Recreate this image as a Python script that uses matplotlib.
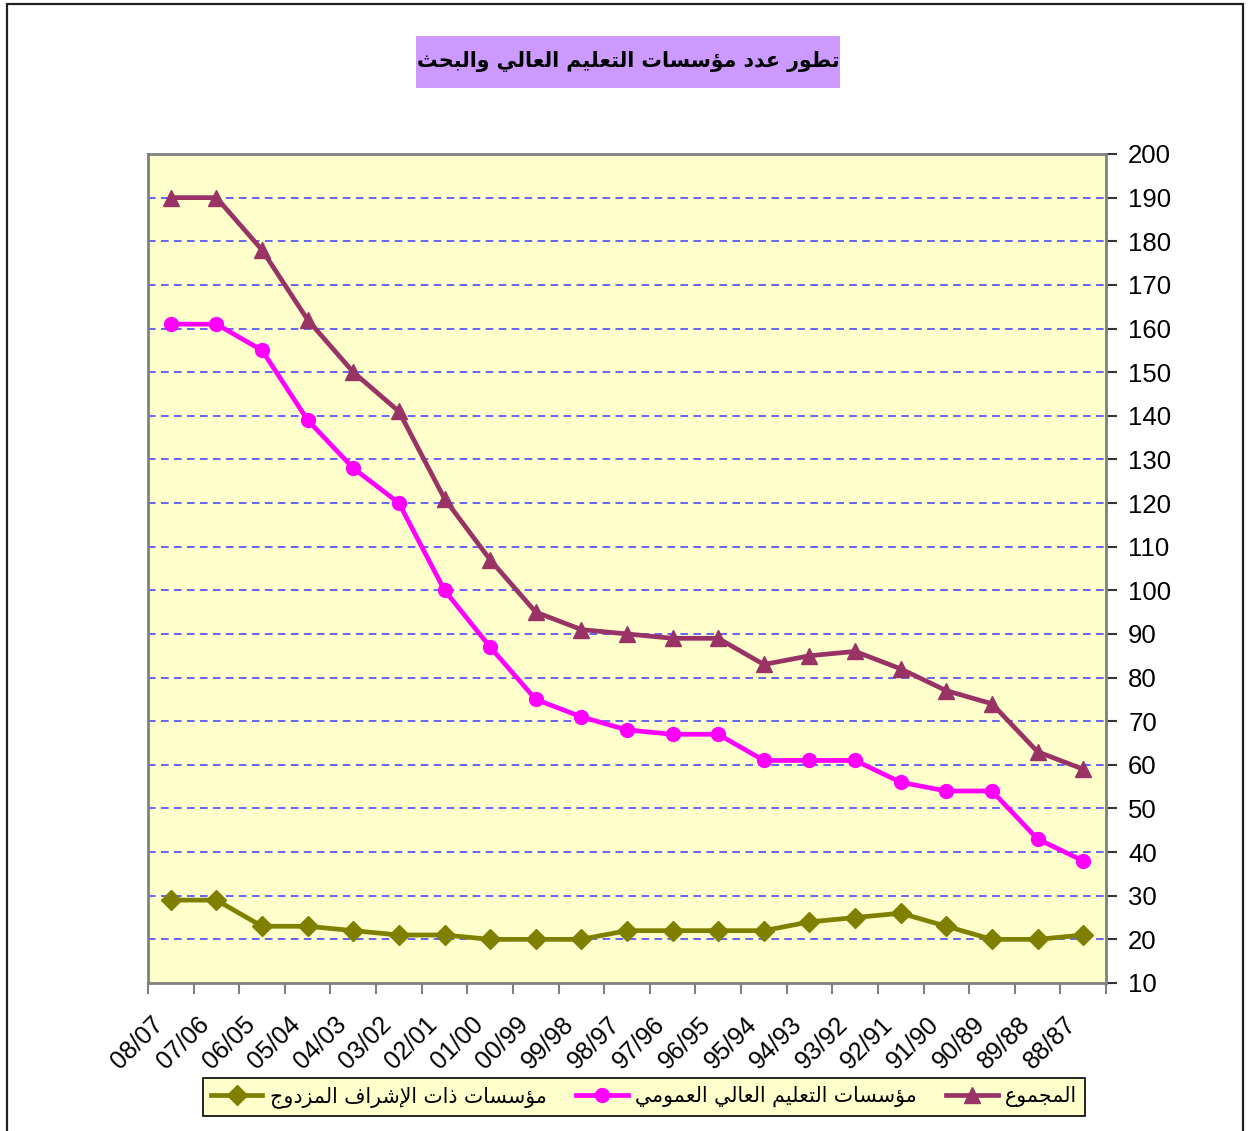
import matplotlib
matplotlib.use("Agg")
import matplotlib.pyplot as plt
import matplotlib.transforms as mtransforms
from matplotlib.patches import Rectangle

# ---------------- data ----------------
categories = ["08/07", "07/06", "06/05", "05/04", "04/03", "03/02", "02/01", "01/00",
              "00/99", "99/98", "98/97", "97/96", "96/95", "95/94", "94/93", "93/92",
              "92/91", "91/90", "90/89", "89/88", "88/87"]
total = [190, 190, 178, 162, 150, 141, 121, 107, 95, 91, 90, 89, 89, 83, 85, 86, 82, 77, 74, 63, 59]
public = [161, 161, 155, 139, 128, 120, 100, 87, 75, 71, 68, 67, 67, 61, 61, 61, 56, 54, 54, 43, 38]
double_sup = [29, 29, 23, 23, 22, 21, 21, 20, 20, 20, 22, 22, 22, 22, 24, 25, 26, 23, 20, 20, 21]
yticks = list(range(10, 201, 10))

title_txt = "تطور عدد مؤسسات التعليم العالي والبحث"
label_total = "المجموع"
label_public = "مؤسسات التعليم العالي العمومي"
label_double = "مؤسسات ذات الإشراف المزدوج"

# ---------------- minimal Arabic shaping (presentation forms) ----------------
FORMS = {
    '\u0627': (0xFE8D, 0xFE8E), '\u0625': (0xFE87, 0xFE88), '\u0623': (0xFE83, 0xFE84),
    '\u0624': (0xFE85, 0xFE86), '\u062F': (0xFEA9, 0xFEAA), '\u0630': (0xFEAB, 0xFEAC),
    '\u0631': (0xFEAD, 0xFEAE), '\u0632': (0xFEAF, 0xFEB0), '\u0648': (0xFEED, 0xFEEE),
    '\u0628': (0xFE8F, 0xFE90, 0xFE91, 0xFE92), '\u062A': (0xFE95, 0xFE96, 0xFE97, 0xFE98),
    '\u062B': (0xFE99, 0xFE9A, 0xFE9B, 0xFE9C), '\u062C': (0xFE9D, 0xFE9E, 0xFE9F, 0xFEA0),
    '\u062D': (0xFEA1, 0xFEA2, 0xFEA3, 0xFEA4), '\u0633': (0xFEB1, 0xFEB2, 0xFEB3, 0xFEB4),
    '\u0634': (0xFEB5, 0xFEB6, 0xFEB7, 0xFEB8), '\u0637': (0xFEC1, 0xFEC2, 0xFEC3, 0xFEC4),
    '\u0639': (0xFEC9, 0xFECA, 0xFECB, 0xFECC), '\u0641': (0xFED1, 0xFED2, 0xFED3, 0xFED4),
    '\u0644': (0xFEDD, 0xFEDE, 0xFEDF, 0xFEE0), '\u0645': (0xFEE1, 0xFEE2, 0xFEE3, 0xFEE4),
    '\u064A': (0xFEF1, 0xFEF2, 0xFEF3, 0xFEF4),
}
LAM_ALEF = {'\u0627': (0xFEFB, 0xFEFC), '\u0625': (0xFEF9, 0xFEFA), '\u0623': (0xFEF7, 0xFEF8)}


def shape(s):
    ch = list(s)
    n = len(ch)
    dual = lambda c: c in FORMS and len(FORMS[c]) == 4
    res = []
    i = 0
    while i < n:
        c = ch[i]
        if c not in FORMS:
            res.append(c)
            i += 1
            continue
        prev = ch[i - 1] if i > 0 else None
        cp = prev is not None and dual(prev)
        if c == '\u0644' and i + 1 < n and ch[i + 1] in LAM_ALEF:
            lig = LAM_ALEF[ch[i + 1]]
            res.append(chr(lig[1] if cp else lig[0]))
            i += 2
            continue
        nxt = ch[i + 1] if i + 1 < n else None
        cn = dual(c) and nxt in FORMS
        f = FORMS[c]
        if cp and cn:
            g = f[3]
        elif cp:
            g = f[1]
        elif cn:
            g = f[2]
        else:
            g = f[0]
        res.append(chr(g))
        i += 1
    return ''.join(reversed(res))


plt.rcParams['font.family'] = ['Liberation Sans', 'DejaVu Sans']

W, H = 1248, 1131
fig = plt.figure(figsize=(W / 100, H / 100), dpi=100)
fig.patch.set_facecolor('white')

# outer frame
fig.add_artist(Rectangle((7 / W, -0.01), (1243 - 7) / W, 1 - 4 / H + 0.01,
                         transform=fig.transFigure, fill=False, edgecolor='#222222', lw=1.6))

ax_l, ax_r, ax_t, ax_b = 148, 1106, 154, 983
ax = fig.add_axes([ax_l / W, 1 - ax_b / H, (ax_r - ax_l) / W, (ax_b - ax_t) / H])
ax.set_facecolor('#FFFFCC')

x = list(range(len(categories)))
ax.set_xlim(-0.5, len(categories) - 0.5)
ax.set_ylim(10, 200)

for yv in yticks[1:-1]:
    ax.axhline(yv, color='#3b3bff', lw=1.1, ls=(0, (5, 3.5)), zorder=1)

ax.plot(x, double_sup, color='#808000', lw=3.4, marker='D', ms=10, zorder=3,
        label=shape(label_double))
ax.plot(x, public, color='#FF00FF', lw=3.4, marker='o', ms=10, zorder=3,
        label=shape(label_public))
ax.plot(x, total, color='#993366', lw=3.4, marker='^', ms=11.5, zorder=3,
        label=shape(label_total))

for s in ax.spines.values():
    s.set_color('#808080')
    s.set_linewidth(2)

ax.yaxis.tick_right()
ax.set_yticks(yticks)
ax.set_yticklabels([str(v) for v in yticks])
ax.tick_params(axis='y', which='major', direction='out', length=8, width=1.5,
               color='#333333', labelsize=18.5, pad=8)
ax.tick_params(axis='y', left=False)

ax.set_xticks(x)
ax.set_xticklabels(categories, rotation=45, ha='right', va='center', rotation_mode='anchor')
ax.tick_params(axis='x', which='major', length=0, labelsize=18, pad=27)
ax.set_xticks([i - 0.5 for i in range(len(categories) + 1)], minor=True)
ax.tick_params(axis='x', which='minor', direction='out', length=8, width=1.5, color='#808080')
off = mtransforms.ScaledTranslation(-8 / 72, 0, fig.dpi_scale_trans)
for lab in ax.get_xticklabels():
    lab.set_transform(lab.get_transform() + off)

# title with purple box
tx0, tx1, ty0, ty1 = 416, 840, 36, 88
fig.add_artist(Rectangle((tx0 / W, 1 - ty1 / H), (tx1 - tx0) / W, (ty1 - ty0) / H,
                         transform=fig.transFigure, facecolor='#CC99FF', edgecolor='none'))
fig.text((tx0 + tx1) / 2 / W, 1 - 61 / H, shape(title_txt), ha='center', va='center',
         fontsize=14.8, fontweight='bold', family=['DejaVu Sans'])

# legend
leg = fig.legend(loc='center', bbox_to_anchor=(644 / W, 1 - 1097 / H), ncol=3,
                 frameon=True, fancybox=False, handlelength=2.5,
                 columnspacing=1.45, handletextpad=0.35, borderpad=0.4,
                 prop={'family': ['DejaVu Sans'], 'size': 14.8})
leg.get_frame().set_facecolor('#FFFFCC')
leg.get_frame().set_edgecolor('black')
leg.get_frame().set_linewidth(1.2)
leg.get_frame().set_alpha(1)

fig.savefig('out.png', dpi=100)
